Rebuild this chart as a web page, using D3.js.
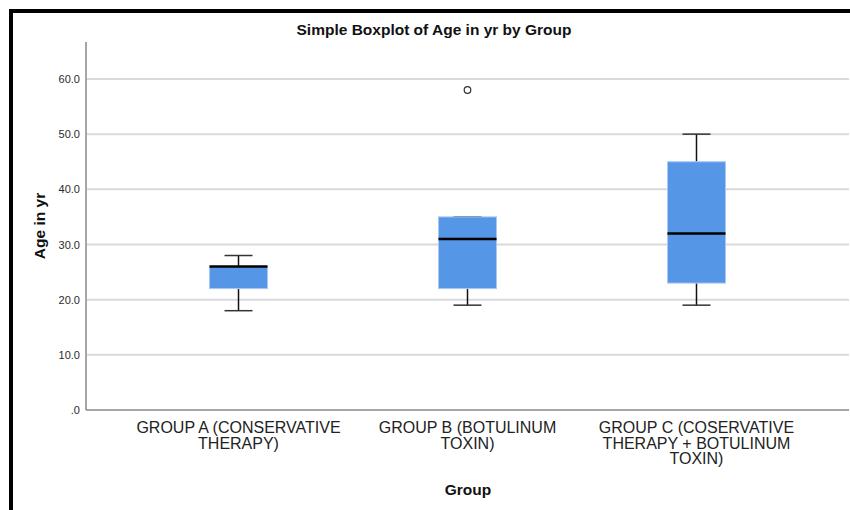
<!DOCTYPE html>
<html>
<head>
<meta charset="utf-8">
<script src="https://cdn.jsdelivr.net/npm/d3@7"></script>
<style>
  body { margin: 0; background: #fff; }
  text { font-family: "Liberation Sans", Arial, sans-serif; }
</style>
</head>
<body>
<div id="my_dataviz"></div>
<script>
// data
var categories = ["GROUP A (CONSERVATIVE THERAPY)", "GROUP B (BOTULINUM TOXIN)", "GROUP C (COSERVATIVE THERAPY + BOTULINUM TOXIN)"];
var whiskerLow = [18, 19, 19];
var q1 = [22, 22, 23];
var median = [26, 31, 32];
var q3 = [26, 35, 45];
var whiskerHigh = [28, 35, 50];
var outliers = [{group: "GROUP B (BOTULINUM TOXIN)", value: 58}];
var yTicks = [0, 10, 20, 30, 40, 50, 60];

var W = 850, H = 510;
var plot = {left: 86, right: 849, top: 42, bottom: 410};

var svg = d3.select("#my_dataviz")
  .append("svg")
    .attr("width", W)
    .attr("height", H);

// the black frame (screenshot cut off at right/bottom)
svg.append("rect").attr("x", 9).attr("y", 9).attr("width", W - 9).attr("height", 4).attr("fill", "#000");
svg.append("rect").attr("x", 9).attr("y", 9).attr("width", 4).attr("height", H - 9).attr("fill", "#000");

var x = d3.scalePoint()
  .domain(categories)
  .range([plot.left, plot.right])
  .padding(0.666);

var y = d3.scaleLinear()
  .domain([0, 66.7])
  .range([plot.bottom, plot.top]);

// gridlines
svg.append("g")
  .selectAll("line")
  .data(yTicks.filter(function(d) { return d > 0; }))
  .enter()
  .append("line")
    .attr("x1", plot.left + 1)
    .attr("x2", plot.right)
    .attr("y1", function(d) { return y(d); })
    .attr("y2", function(d) { return y(d); })
    .attr("stroke", "#d9d9d9")
    .attr("stroke-width", 2);

// y axis
var yAxis = svg.append("g")
  .attr("transform", "translate(" + plot.left + ",0)")
  .call(d3.axisLeft(y)
    .tickValues(yTicks)
    .tickSize(0)
    .tickPadding(6)
    .tickFormat(function(d) { return d === 0 ? ".0" : d3.format(".1f")(d); }));
yAxis.select(".domain").remove();
yAxis.selectAll("text")
  .style("font-family", "Liberation Sans, Arial, sans-serif")
  .style("font-size", "11px")
  .attr("fill", "#2b2b2b");

// axis lines
svg.append("line")
  .attr("x1", plot.left).attr("x2", plot.left)
  .attr("y1", plot.top).attr("y2", plot.bottom)
  .attr("stroke", "#888").attr("stroke-width", 1.5);
svg.append("line")
  .attr("x1", plot.left).attr("x2", plot.right)
  .attr("y1", plot.bottom).attr("y2", plot.bottom)
  .attr("stroke", "#888").attr("stroke-width", 1.5);

// boxes
var boxW = 58, capW = 28;
var boxes = categories.map(function(c, i) {
  return {cat: c, lo: whiskerLow[i], q1: q1[i], med: median[i], q3: q3[i], hi: whiskerHigh[i]};
});

var g = svg.append("g").selectAll("g")
  .data(boxes)
  .enter()
  .append("g");

// whiskers
g.append("line")
  .attr("x1", function(d) { return x(d.cat); })
  .attr("x2", function(d) { return x(d.cat); })
  .attr("y1", function(d) { return y(d.lo); })
  .attr("y2", function(d) { return y(d.q1); })
  .attr("stroke", "#111").attr("stroke-width", 1.5);
g.append("line")
  .attr("x1", function(d) { return x(d.cat); })
  .attr("x2", function(d) { return x(d.cat); })
  .attr("y1", function(d) { return y(d.q3); })
  .attr("y2", function(d) { return y(d.hi); })
  .attr("stroke", "#111").attr("stroke-width", 1.5);
// caps
["lo", "hi"].forEach(function(k) {
  g.append("line")
    .attr("x1", function(d) { return x(d.cat) - capW / 2; })
    .attr("x2", function(d) { return x(d.cat) + capW / 2; })
    .attr("y1", function(d) { return y(d[k]); })
    .attr("y2", function(d) { return y(d[k]); })
    .attr("stroke", "#333").attr("stroke-width", 1.5);
});

g.append("rect")
  .attr("x", function(d) { return x(d.cat) - boxW / 2; })
  .attr("y", function(d) { return y(d.q3); })
  .attr("width", boxW)
  .attr("height", function(d) { return y(d.q1) - y(d.q3); })
  .attr("fill", "#5596e6")
  .attr("stroke", "#a9c9f2")
  .attr("stroke-width", 1);

g.append("line")
  .attr("x1", function(d) { return x(d.cat) - boxW / 2; })
  .attr("x2", function(d) { return x(d.cat) + boxW / 2; })
  .attr("y1", function(d) { return y(d.med); })
  .attr("y2", function(d) { return y(d.med); })
  .attr("stroke", "#000").attr("stroke-width", 2.5);

// outliers
svg.append("g").selectAll("circle")
  .data(outliers)
  .enter()
  .append("circle")
    .attr("cx", function(d) { return x(d.group); })
    .attr("cy", function(d) { return y(d.value); })
    .attr("r", 3.3)
    .attr("fill", "#fff")
    .attr("stroke", "#333")
    .attr("stroke-width", 1.2);

// category labels, wrapped
var catLabels = svg.append("g").selectAll("text")
  .data(categories)
  .enter()
  .append("text")
    .attr("x", function(d) { return x(d); })
    .attr("y", 433)
    .attr("text-anchor", "middle")
    .style("font-size", "16px")
    .attr("fill", "#222")
    .text(function(d) { return d; });

catLabels.each(function(d) {
  var t = d3.select(this), words = d.split(" "), line = [];
  t.text(null);
  var tspan = t.append("tspan").attr("x", x(d)).attr("dy", 0);
  words.forEach(function(w) {
    line.push(w);
    tspan.text(line.join(" "));
    if (tspan.node().getComputedTextLength() > 218 && line.length > 1) {
      line.pop();
      tspan.text(line.join(" "));
      line = [w];
      tspan = t.append("tspan").attr("x", x(d)).attr("dy", "15.5px").text(w);
    }
  });
});

// titles
svg.append("text")
  .attr("x", 434).attr("y", 35)
  .attr("text-anchor", "middle")
  .style("font-size", "15.5px").style("font-weight", "bold")
  .attr("fill", "#111")
  .text("Simple Boxplot of Age in yr by Group");

svg.append("text")
  .attr("transform", "translate(45," + ((plot.top + plot.bottom) / 2) + ") rotate(-90)")
  .attr("text-anchor", "middle")
  .style("font-size", "15.5px").style("font-weight", "bold")
  .attr("fill", "#111")
  .text("Age in yr");

svg.append("text")
  .attr("x", 468).attr("y", 495)
  .attr("text-anchor", "middle")
  .style("font-size", "15.5px").style("font-weight", "bold")
  .attr("fill", "#111")
  .text("Group");
</script>
</body>
</html>
